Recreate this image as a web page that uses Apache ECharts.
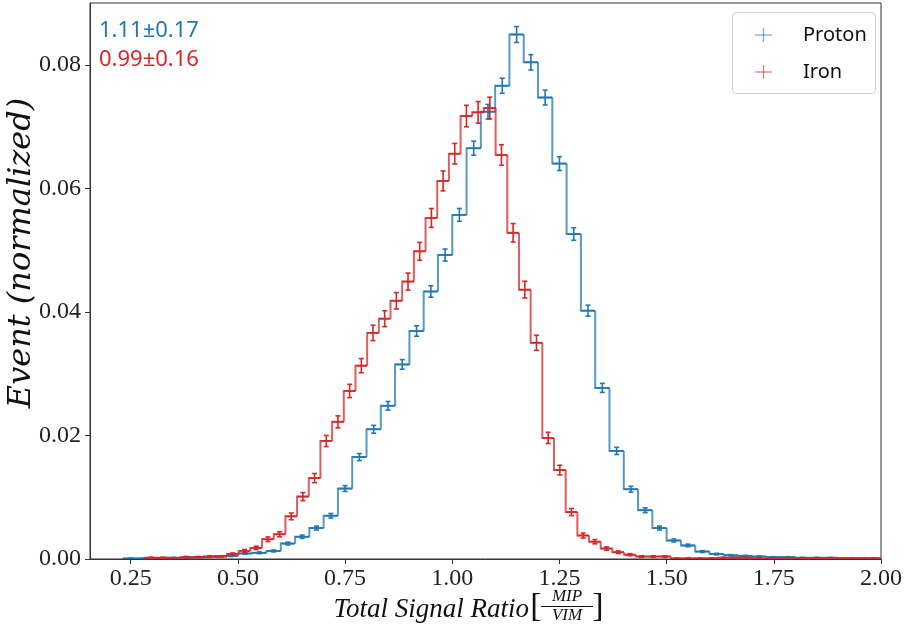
<!DOCTYPE html>
<html><head><meta charset="utf-8">
<script src="https://cdn.jsdelivr.net/npm/echarts@6/dist/echarts.min.js"></script>
<style>html,body{margin:0;padding:0;background:#fff}#c{width:905px;height:635px}</style>
</head><body><div id="c"></div>
<script>
// ---- data ----
const xTicks = [0.25, 0.5, 0.75, 1.0, 1.25, 1.5, 1.75, 2.0];
const yTicks = [0, 0.02, 0.04, 0.06, 0.08];

const protonLabel = 'Proton';
const protonStat = '1.11\u00b10.17';
const protonBinStart = 0.23333;
const protonBinWidth = 0.033333;
const protonValues = [
  0.0001, 0.0001, 0.0001, 0.0002, 0.0002, 0.0003, 0.0004, 0.0005,
  0.0009, 0.0010, 0.0013, 0.0025, 0.0036, 0.0050, 0.0070,
  0.0114, 0.0165, 0.0210, 0.0248, 0.0315, 0.0369, 0.0433, 0.0492, 0.0557,
  0.0665, 0.0724, 0.0766, 0.0849, 0.0804, 0.0747, 0.0640, 0.0526, 0.0402,
  0.0277, 0.0175, 0.0113, 0.0079, 0.0050, 0.0030, 0.0022, 0.0012, 0.0008,
  0.0006, 0.0005, 0.0004, 0.0003, 0.0003, 0.0002, 0.0002, 0.0002,
  0.0001, 0.0001, 0.0001
];
const protonEvents = 51650; // event count, estimated from the error-bar lengths

const ironLabel = 'Iron';
const ironStat = '0.99\u00b10.16';
const ironBinStart = 0.2839;
const ironBinWidth = 0.02724;
const ironValues = [
  0.0002, 0.0002, 0.0001, 0.0003, 0.0003, 0.0004, 0.0004, 0.0008, 0.0013, 0.0018,
  0.0032, 0.0040, 0.0069, 0.0101, 0.0131, 0.0191, 0.0222, 0.0272, 0.0313, 0.0366,
  0.0389, 0.0418, 0.0449, 0.0498, 0.0552, 0.0612, 0.0656, 0.0717, 0.0723, 0.0730,
  0.0654, 0.0528, 0.0436, 0.0350, 0.0196, 0.0144, 0.0076, 0.0038, 0.0028, 0.0017,
  0.0011, 0.0007, 0.0004, 0.0004, 0.0004, 0.0001, 0.0001, 0.0001, 0.0001, 0.0002,
  0.0002, 0.0002, 0.0001, 0.0001, 0.0001, 0.0001, 0.0001, 0.0001, 0.0001, 0.0001,
  0.0001, 0.0001, 0.0001
];
const ironEvents = 23670; // event count, estimated from the error-bar lengths

// ---- build ----
const BLUE = '#1f77b4', RED = '#d62728';
function buildBins(start, width, values, events) {
  return values.map((v, i) => [
    start + i * width, start + (i + 1) * width, v,
    i > 0 ? values[i - 1] : 0,
    Math.sqrt(v / events),
    i === values.length - 1 ? 1 : 0
  ]);
}
function makeRender(color, stepColor) {
  return function (params, api) {
    const l = api.value(0), r = api.value(1), v = api.value(2), pv = api.value(3), e = api.value(4), last = api.value(5);
    const pPrev = api.coord([l, pv]), pL = api.coord([l, v]), pR = api.coord([r, v]);
    const pts = [pPrev, pL, pR];
    if (last) pts.push(api.coord([r, 0]));
    const c = (l + r) / 2;
    const pT = api.coord([c, v + e]), pB = api.coord([c, v - e]);
    const cap = 2.5;
    const eb = { stroke: color, lineWidth: 1.6 };
    return {
      type: 'group',
      children: [
        { type: 'polyline', shape: { points: pts }, style: { stroke: stepColor, lineWidth: 2, fill: null } },
        { type: 'line', shape: { x1: pL[0], y1: pL[1], x2: pR[0], y2: pR[1] }, style: eb },
        { type: 'line', shape: { x1: pT[0], y1: pT[1], x2: pB[0], y2: pB[1] }, style: eb },
        { type: 'line', shape: { x1: pT[0] - cap, y1: pT[1], x2: pT[0] + cap, y2: pT[1] }, style: eb },
        { type: 'line', shape: { x1: pB[0] - cap, y1: pB[1], x2: pB[0] + cap, y2: pB[1] }, style: eb }
      ]
    };
  };
}

const chart = echarts.init(document.getElementById('c'), null, { renderer: 'canvas' });
const axisColor = '#333';
const tickFont = { fontFamily: 'Liberation Serif', fontSize: 24, color: '#222' };
const titleFont = 'Liberation Serif';

chart.setOption({
  animation: false,
  backgroundColor: '#fff',
  grid: { left: 90, right: 22, top: 3, bottom: 76, show: true, borderColor: axisColor, borderWidth: 1 },
  xAxis: {
    type: 'value', min: 0.155, max: 2.0,
    axisLine: { show: true, onZero: false, lineStyle: { color: axisColor, width: 1 } },
    axisTick: { show: true, customValues: xTicks, length: 5, lineStyle: { color: axisColor } },
    axisLabel: Object.assign({ customValues: xTicks, margin: 8, formatter: v => v.toFixed(2) }, tickFont),
    splitLine: { show: false }
  },
  yAxis: {
    type: 'value', min: 0, max: 0.09,
    axisLine: { show: true, lineStyle: { color: axisColor, width: 1 } },
    axisTick: { show: true, customValues: yTicks, length: 5, lineStyle: { color: axisColor } },
    axisLabel: Object.assign({ customValues: yTicks, margin: 9, formatter: v => v.toFixed(2) }, tickFont),
    splitLine: { show: false }
  },
  series: [
    { name: protonLabel, type: 'custom', clip: true, renderItem: makeRender(BLUE, 'rgba(31,119,180,0.75)'),
      encode: { x: [0, 1], y: 2 }, data: buildBins(protonBinStart, protonBinWidth, protonValues, protonEvents) },
    { name: ironLabel, type: 'custom', clip: true, renderItem: makeRender(RED, 'rgba(214,39,40,0.75)'),
      encode: { x: [0, 1], y: 2 }, data: buildBins(ironBinStart, ironBinWidth, ironValues, ironEvents) }
  ],
  graphic: [
    // stats text
    { type: 'text', x: 99, y: 31, style: { text: protonStat, fill: BLUE, fontFamily: 'Noto Sans', fontSize: 22, textAlign: 'left', align: 'left', textVerticalAlign: 'middle', verticalAlign: 'middle' } },
    { type: 'text', x: 99, y: 60, style: { text: ironStat, fill: RED, fontFamily: 'Noto Sans', fontSize: 22, textAlign: 'left', align: 'left', textVerticalAlign: 'middle', verticalAlign: 'middle' } },
    // legend
    { type: 'rect', shape: { x: 732.5, y: 12.5, width: 143, height: 81, r: 4 }, style: { fill: 'rgba(255,255,255,0.85)', stroke: '#d0d0d0', lineWidth: 1 } },
    { type: 'line', shape: { x1: 755, y1: 35, x2: 772, y2: 35 }, style: { stroke: 'rgba(31,119,180,0.6)', lineWidth: 1.3 } },
    { type: 'line', shape: { x1: 763.5, y1: 28, x2: 763.5, y2: 42 }, style: { stroke: 'rgba(31,119,180,0.6)', lineWidth: 1.3 } },
    { type: 'line', shape: { x1: 755, y1: 72, x2: 772, y2: 72 }, style: { stroke: 'rgba(214,39,40,0.6)', lineWidth: 1.3 } },
    { type: 'line', shape: { x1: 763.5, y1: 65, x2: 763.5, y2: 79 }, style: { stroke: 'rgba(214,39,40,0.6)', lineWidth: 1.3 } },
    { type: 'text', x: 803, y: 35, style: { text: protonLabel, fill: '#111', fontFamily: 'Noto Sans', fontSize: 20, textAlign: 'left', align: 'left', textVerticalAlign: 'middle', verticalAlign: 'middle' } },
    { type: 'text', x: 803, y: 72, style: { text: ironLabel, fill: '#111', fontFamily: 'Noto Sans', fontSize: 20, textAlign: 'left', align: 'left', textVerticalAlign: 'middle', verticalAlign: 'middle' } },
    // y title
    { type: 'text', x: 22, y: 253, rotation: Math.PI / 2, style: { text: 'Event (normalized)', fill: '#111', fontFamily: 'DejaVu Serif', fontStyle: 'italic', fontSize: 32, textAlign: 'center', align: 'center', textVerticalAlign: 'middle', verticalAlign: 'middle' } },
    // x title
    { type: 'text', x: 529, y: 610, style: { text: 'Total Signal Ratio', fill: '#111', fontFamily: titleFont, fontStyle: 'italic', fontSize: 27, textAlign: 'right', align: 'right', textVerticalAlign: 'middle', verticalAlign: 'middle' } },
    { type: 'text', x: 536, y: 607, style: { text: '[', fill: '#111', fontFamily: titleFont, fontSize: 34, textAlign: 'center', align: 'center', textVerticalAlign: 'middle', verticalAlign: 'middle' } },
    { type: 'text', x: 567, y: 597, style: { text: 'MIP', fill: '#111', fontFamily: titleFont, fontStyle: 'italic', fontSize: 17, textAlign: 'center', align: 'center', textVerticalAlign: 'middle', verticalAlign: 'middle' } },
    { type: 'line', shape: { x1: 541, y1: 606.5, x2: 593, y2: 606.5 }, style: { stroke: '#111', lineWidth: 1.2 } },
    { type: 'text', x: 567, y: 616, style: { text: 'VIM', fill: '#111', fontFamily: titleFont, fontStyle: 'italic', fontSize: 17, textAlign: 'center', align: 'center', textVerticalAlign: 'middle', verticalAlign: 'middle' } },
    { type: 'text', x: 598, y: 607, style: { text: ']', fill: '#111', fontFamily: titleFont, fontSize: 34, textAlign: 'center', align: 'center', textVerticalAlign: 'middle', verticalAlign: 'middle' } }
  ]
});
</script>
</body></html>
